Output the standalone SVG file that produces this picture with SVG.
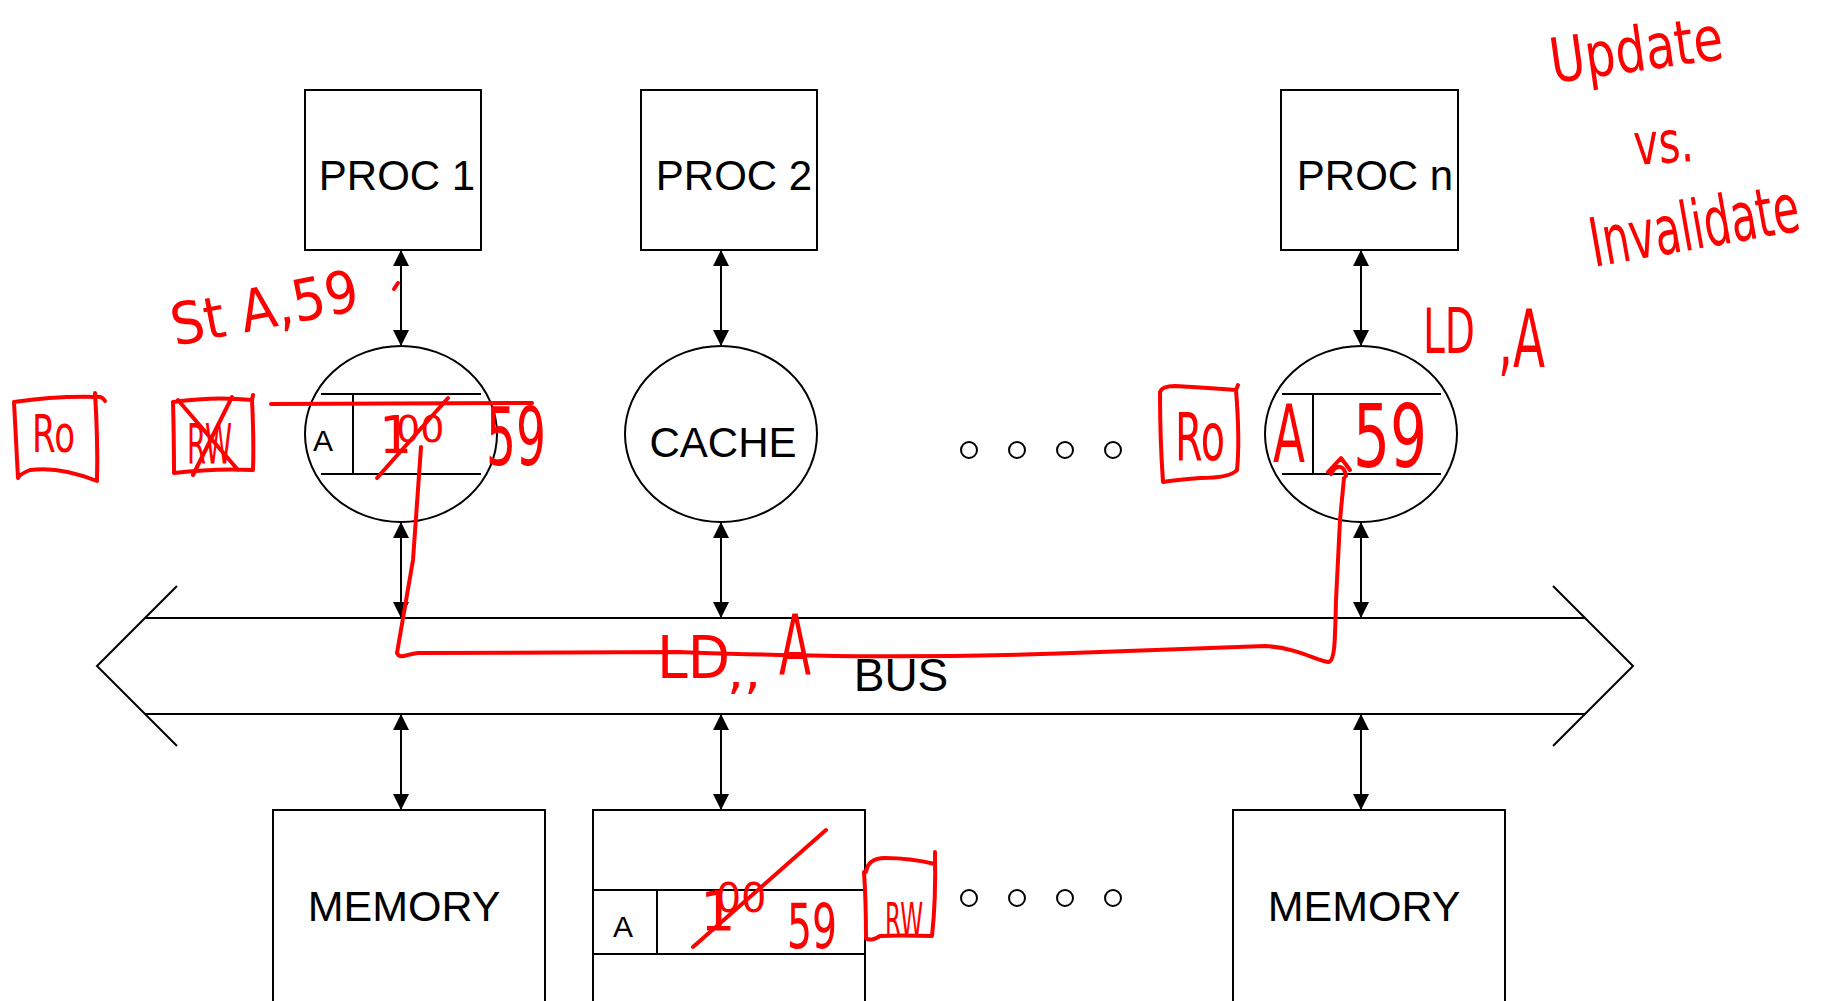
<svg xmlns="http://www.w3.org/2000/svg" width="1826" height="1001" viewBox="0 0 1826 1001">
<style>
.box{fill:#fff;stroke:#000;stroke-width:2}
.ln{fill:none;stroke:#000;stroke-width:2}
.conn{stroke:#000;stroke-width:2;fill:none}
.lbl{font-family:"Liberation Sans",Arial,sans-serif;font-size:42px;fill:#000;text-anchor:middle}
.sm{font-family:"Liberation Sans",Arial,sans-serif;font-size:30px;fill:#000;text-anchor:middle}
.dot{fill:none;stroke:#000;stroke-width:2}
.red{fill:none;stroke:#f00;stroke-width:4;stroke-linecap:round;stroke-linejoin:round}
.hw{font-family:"DejaVu Sans","Liberation Sans",sans-serif;fill:#f00}
</style>
<defs>
<marker id="ah" viewBox="0 0 16 16" refX="16" refY="8" markerWidth="16" markerHeight="16" markerUnits="userSpaceOnUse" orient="auto-start-reverse">
<path d="M0,0 L16,8 L0,16 z" fill="#000"/>
</marker>
</defs>
<rect width="1826" height="1001" fill="#fff"/>

<g id="proc1"><rect class="box" x="305" y="90" width="176" height="160"/><text class="lbl" x="397" y="190">PROC 1</text></g>
<g id="proc2"><rect class="box" x="641" y="90" width="176" height="160"/><text class="lbl" x="734" y="190">PROC 2</text></g>
<g id="procn"><rect class="box" x="1281" y="90" width="177" height="160"/><text class="lbl" x="1375" y="190">PROC n</text></g>

<g id="cache1"><ellipse class="box" cx="401" cy="434" rx="96" ry="88"/>
<line class="ln" x1="321" y1="394" x2="481" y2="394"/><line class="ln" x1="321" y1="474" x2="481" y2="474"/><line class="ln" x1="353" y1="394" x2="353" y2="474"/>
<text class="sm" x="323" y="451">A</text></g>
<g id="cache2"><ellipse class="box" cx="721" cy="434" rx="96" ry="88"/><text class="lbl" x="723" y="457">CACHE</text></g>
<g id="cachen"><ellipse class="box" cx="1361" cy="434" rx="96" ry="88"/>
<line class="ln" x1="1282" y1="394" x2="1441" y2="394"/><line class="ln" x1="1282" y1="474" x2="1441" y2="474"/><line class="ln" x1="1313" y1="394" x2="1313" y2="474"/></g>

<g id="dots1"><circle class="dot" cx="969" cy="450" r="8"/><circle class="dot" cx="1017" cy="450" r="8"/><circle class="dot" cx="1065" cy="450" r="8"/><circle class="dot" cx="1113" cy="450" r="8"/></g>

<g id="bus">
<line class="ln" x1="145" y1="618" x2="1585" y2="618"/><line class="ln" x1="145" y1="714" x2="1585" y2="714"/>
<polyline class="ln" points="177,586 97,666 177,746"/><polyline class="ln" points="1553,586 1633,666 1553,746"/>
<text class="lbl" x="901" y="691" style="font-size:46px">BUS</text></g>

<g id="mem1"><rect class="box" x="273" y="810" width="272" height="210"/><text class="lbl" x="404" y="921" style="font-size:43px">MEMORY</text></g>
<g id="mem2"><rect class="box" x="593" y="810" width="272" height="210"/>
<line class="ln" x1="593" y1="890" x2="865" y2="890"/><line class="ln" x1="593" y1="954" x2="865" y2="954"/><line class="ln" x1="657" y1="890" x2="657" y2="954"/>
<text class="sm" x="623" y="937">A</text></g>
<g id="memn"><rect class="box" x="1233" y="810" width="272" height="210"/><text class="lbl" x="1364" y="921" style="font-size:43px">MEMORY</text></g>

<g id="dots2"><circle class="dot" cx="969" cy="898" r="8"/><circle class="dot" cx="1017" cy="898" r="8"/><circle class="dot" cx="1065" cy="898" r="8"/><circle class="dot" cx="1113" cy="898" r="8"/></g>

<g id="connectors">
<line class="conn" x1="401" y1="250" x2="401" y2="346" marker-start="url(#ah)" marker-end="url(#ah)"/>
<line class="conn" x1="721" y1="250" x2="721" y2="346" marker-start="url(#ah)" marker-end="url(#ah)"/>
<line class="conn" x1="1361" y1="250" x2="1361" y2="346" marker-start="url(#ah)" marker-end="url(#ah)"/>
<line class="conn" x1="401" y1="522" x2="401" y2="618" marker-start="url(#ah)" marker-end="url(#ah)"/>
<line class="conn" x1="721" y1="522" x2="721" y2="618" marker-start="url(#ah)" marker-end="url(#ah)"/>
<line class="conn" x1="1361" y1="522" x2="1361" y2="618" marker-start="url(#ah)" marker-end="url(#ah)"/>
<line class="conn" x1="401" y1="714" x2="401" y2="810" marker-start="url(#ah)" marker-end="url(#ah)"/>
<line class="conn" x1="721" y1="714" x2="721" y2="810" marker-start="url(#ah)" marker-end="url(#ah)"/>
<line class="conn" x1="1361" y1="714" x2="1361" y2="810" marker-start="url(#ah)" marker-end="url(#ah)"/>
</g>

<g id="annotations">
<text class="hw" x="175" y="346" font-size="58" textLength="190" lengthAdjust="spacingAndGlyphs" transform="rotate(-11 175 346)">St A,59</text>
<path class="red" d="M394,289 L398,283"/>
<path class="red" d="M14,402 Q55,396 96,397 Q102,396 105,401 M95,393 Q98,440 97,481 Q60,466 30,470 Q20,474 18,478 Q16,440 14,402"/>
<text class="hw" x="32" y="452" font-size="52" textLength="43" lengthAdjust="spacingAndGlyphs">Ro</text>
<path class="red" d="M173,402 Q215,396 252,400 L253,395 M252,400 Q254,440 253,470 Q215,468 174,473 Q174,440 173,402 M178,400 L238,470 M193,475 L232,397"/>
<text class="hw" x="187" y="463" font-size="56" textLength="45" lengthAdjust="spacingAndGlyphs">RW</text>
<path class="red" stroke-width="5" d="M271,404 L532,403"/>
<text class="hw" x="379" y="453" font-size="52">1<tspan font-size="38" dx="-16" dy="-11">00</tspan></text>
<path class="red" d="M377,478 L448,398"/>
<text class="hw" x="486" y="465" font-size="80" textLength="60" lengthAdjust="spacingAndGlyphs">59</text>
<path class="red" d="M421,447 C419,480 416,520 413,560 L397,653 C400,660 406,654 418,653 L680,652 C770,655 900,660 1100,652 L1265,646 C1300,648 1318,662 1329,662 C1335,660 1335,640 1336,600 L1340,520 L1344,478 M1328,472 L1341,458 L1350,470 M1331,474 C1336,464 1344,464 1346,476"/>
<text class="hw" x="657" y="678" font-size="58" textLength="73" lengthAdjust="spacingAndGlyphs">LD</text>
<text class="hw" x="727" y="688" font-size="50" textLength="34" lengthAdjust="spacingAndGlyphs">,,</text>
<text class="hw" x="779" y="675" font-size="84" textLength="32" lengthAdjust="spacingAndGlyphs">A</text>
<path class="red" d="M1160,392 Q1162,386 1175,386 Q1210,388 1236,390 L1238,385 M1236,390 Q1240,440 1237,470 Q1230,478 1200,478 Q1175,480 1163,482 Q1160,440 1160,392"/>
<text class="hw" x="1175" y="460" font-size="66" textLength="50" lengthAdjust="spacingAndGlyphs">Ro</text>
<text class="hw" x="1273" y="462" font-size="80" textLength="32" lengthAdjust="spacingAndGlyphs">A</text>
<text class="hw" x="1353" y="467" font-size="88" textLength="74" lengthAdjust="spacingAndGlyphs">59</text>
<text class="hw" x="1423" y="353" font-size="62" textLength="52" lengthAdjust="spacingAndGlyphs">LD</text>
<text class="hw" x="1498" y="367" font-size="80" textLength="47" lengthAdjust="spacingAndGlyphs">,A</text>
<text class="hw" x="0" y="0" font-size="62" transform="translate(1553 83) rotate(-8) scale(0.775 1)">Update</text>
<text class="hw" x="0" y="0" font-size="58" transform="translate(1635 165) rotate(-4) scale(0.72 1)">vs.</text>
<text class="hw" x="0" y="0" font-size="68" transform="translate(1594 267) rotate(-10) scale(0.63 1)">Invalidate</text>
<text class="hw" x="700" y="930" font-size="56">1<tspan font-size="40" dx="-20" dy="-18">00</tspan></text>
<path class="red" d="M693,947 L826,830"/>
<text class="hw" x="787" y="948" font-size="62" textLength="50" lengthAdjust="spacingAndGlyphs">59</text>
<path class="red" d="M866,872 Q868,858 885,858 Q910,858 935,864 M935,852 Q936,900 932,936 Q900,935 880,936 Q870,942 866,938 Q866,900 864,872"/>
<text class="hw" x="885" y="936" font-size="46" textLength="38" lengthAdjust="spacingAndGlyphs">RW</text>
</g>
</svg>
